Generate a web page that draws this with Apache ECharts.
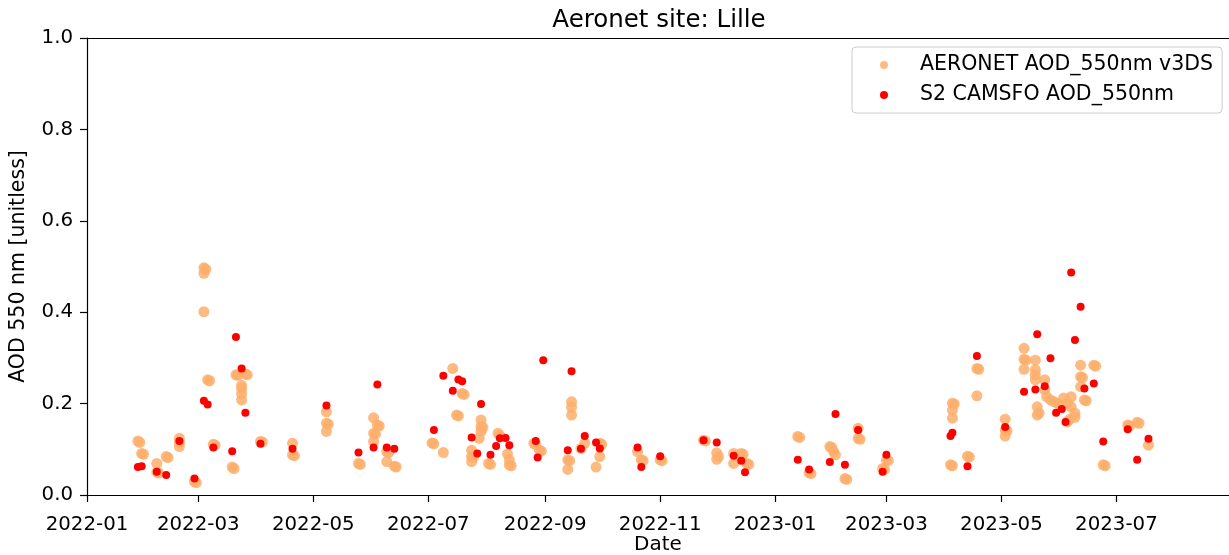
<!DOCTYPE html>
<html>
<head>
<meta charset="utf-8">
<script src="https://cdn.jsdelivr.net/npm/echarts@6/dist/echarts.min.js"></script>
<style>
html, body { margin: 0; padding: 0; background: #fff; }
#main { width: 1229px; height: 555px; }
</style>
</head>
<body>
<div id="main"></div>
<script>
var myChart = echarts.init(document.getElementById('main'));

// tick months on the date axis
const tickMonths = ['2022-01', '2022-03', '2022-05', '2022-07', '2022-09', '2022-11',
    '2023-01', '2023-03', '2023-05', '2023-07'];
const xMin = '2022-01-01';
const xMax = '2023-08-29 17:00';

// AERONET AOD_550nm v3DS  [date, AOD]
const aeronet = [
    ['2022-01-28', 0.118], ['2022-01-29', 0.115],
    ['2022-01-30', 0.091], ['2022-01-31', 0.089],
    ['2022-02-07', 0.069], ['2022-02-07', 0.050], ['2022-02-08', 0.048],
    ['2022-02-12', 0.084], ['2022-02-13', 0.082],
    ['2022-02-19', 0.124], ['2022-02-19', 0.115], ['2022-02-19', 0.106],
    ['2022-02-27', 0.029], ['2022-02-28', 0.027],
    ['2022-03-04', 0.497], ['2022-03-05', 0.494], ['2022-03-04', 0.485],
    ['2022-03-04', 0.401],
    ['2022-03-06', 0.252], ['2022-03-07', 0.250],
    ['2022-03-09', 0.111], ['2022-03-10', 0.109],
    ['2022-03-19', 0.061], ['2022-03-20', 0.058],
    ['2022-03-21', 0.263], ['2022-03-22', 0.262],
    ['2022-03-24', 0.240], ['2022-03-24', 0.233], ['2022-03-24', 0.221], ['2022-03-24', 0.208],
    ['2022-03-26', 0.265], ['2022-03-27', 0.263],
    ['2022-04-03', 0.117], ['2022-04-04', 0.116],
    ['2022-04-20', 0.113], ['2022-04-20', 0.088], ['2022-04-21', 0.086],
    ['2022-05-08', 0.182], ['2022-05-08', 0.157], ['2022-05-09', 0.155], ['2022-05-08', 0.139],
    ['2022-05-25', 0.069], ['2022-05-26', 0.067],
    ['2022-06-02', 0.169], ['2022-06-02', 0.135], ['2022-06-03', 0.133], ['2022-06-02', 0.117],
    ['2022-06-04', 0.153], ['2022-06-05', 0.151],
    ['2022-06-09', 0.095], ['2022-06-10', 0.093], ['2022-06-09', 0.073],
    ['2022-06-13', 0.063], ['2022-06-14', 0.061],
    ['2022-07-03', 0.114], ['2022-07-04', 0.112],
    ['2022-07-09', 0.093],
    ['2022-07-14', 0.277],
    ['2022-07-16', 0.175], ['2022-07-17', 0.173],
    ['2022-07-19', 0.222], ['2022-07-20', 0.220],
    ['2022-07-24', 0.098], ['2022-07-24', 0.084], ['2022-07-25', 0.082], ['2022-07-24', 0.073],
    ['2022-07-28', 0.124],
    ['2022-07-29', 0.164], ['2022-07-29', 0.150], ['2022-07-30', 0.148], ['2022-07-29', 0.139],
    ['2022-08-02', 0.069], ['2022-08-03', 0.067],
    ['2022-08-07', 0.135], ['2022-08-08', 0.130],
    ['2022-08-12', 0.090], ['2022-08-13', 0.077], ['2022-08-13', 0.066], ['2022-08-14', 0.064],
    ['2022-08-26', 0.113], ['2022-08-27', 0.111],
    ['2022-08-29', 0.098], ['2022-08-30', 0.096],
    ['2022-09-13', 0.077], ['2022-09-14', 0.075], ['2022-09-13', 0.056],
    ['2022-09-15', 0.204], ['2022-09-15', 0.192], ['2022-09-15', 0.175],
    ['2022-09-20', 0.102], ['2022-09-22', 0.113],
    ['2022-09-28', 0.061],
    ['2022-09-30', 0.113], ['2022-10-01', 0.111], ['2022-09-30', 0.084],
    ['2022-10-20', 0.095],
    ['2022-10-22', 0.077], ['2022-10-23', 0.075],
    ['2022-11-01', 0.077], ['2022-11-02', 0.075],
    ['2022-11-24', 0.120], ['2022-11-25', 0.118],
    ['2022-12-01', 0.092], ['2022-12-01', 0.078], ['2022-12-02', 0.084],
    ['2022-12-10', 0.091], ['2022-12-10', 0.069],
    ['2022-12-14', 0.091], ['2022-12-15', 0.089],
    ['2022-12-17', 0.069], ['2022-12-18', 0.067],
    ['2023-01-13', 0.128], ['2023-01-14', 0.126],
    ['2023-01-19', 0.049], ['2023-01-20', 0.047],
    ['2023-01-30', 0.106], ['2023-01-31', 0.104], ['2023-02-01', 0.095], ['2023-02-02', 0.088],
    ['2023-02-07', 0.036], ['2023-02-08', 0.034],
    ['2023-02-14', 0.146], ['2023-02-14', 0.124], ['2023-02-15', 0.122],
    ['2023-02-27', 0.058], ['2023-02-28', 0.056],
    ['2023-03-01', 0.077], ['2023-03-02', 0.075],
    ['2023-04-04', 0.066], ['2023-04-05', 0.064],
    ['2023-04-05', 0.201], ['2023-04-06', 0.199], ['2023-04-05', 0.186], ['2023-04-05', 0.168],
    ['2023-04-13', 0.085], ['2023-04-14', 0.083],
    ['2023-04-18', 0.277], ['2023-04-19', 0.275], ['2023-04-18', 0.217],
    ['2023-05-03', 0.166], ['2023-05-03', 0.142], ['2023-05-04', 0.140], ['2023-05-03', 0.129],
    ['2023-05-13', 0.321], ['2023-05-13', 0.297], ['2023-05-14', 0.295], ['2023-05-13', 0.275],
    ['2023-05-19', 0.295], ['2023-05-19', 0.274], ['2023-05-19', 0.263], ['2023-05-19', 0.252],
    ['2023-05-20', 0.193], ['2023-05-21', 0.179], ['2023-05-20', 0.175],
    ['2023-05-24', 0.252], ['2023-05-24', 0.230], ['2023-05-25', 0.215], ['2023-05-27', 0.208],
    ['2023-05-29', 0.204], ['2023-05-31', 0.200], ['2023-06-03', 0.212], ['2023-06-05', 0.201],
    ['2023-06-07', 0.215], ['2023-06-07', 0.193], ['2023-06-09', 0.179], ['2023-06-05', 0.160],
    ['2023-06-06', 0.165], ['2023-06-09', 0.170],
    ['2023-06-12', 0.284], ['2023-06-12', 0.259], ['2023-06-13', 0.257], ['2023-06-12', 0.237],
    ['2023-06-14', 0.208], ['2023-06-15', 0.206],
    ['2023-06-19', 0.284], ['2023-06-20', 0.282],
    ['2023-06-24', 0.066], ['2023-06-25', 0.064],
    ['2023-07-07', 0.153], ['2023-07-08', 0.151],
    ['2023-07-12', 0.159], ['2023-07-13', 0.157],
    ['2023-07-18', 0.109]
];

// S2 CAMSFO AOD_550nm  [date, AOD]
const camsfo = [
    ['2022-01-28', 0.061], ['2022-01-30', 0.063], ['2022-02-07', 0.051], ['2022-02-12', 0.044],
    ['2022-02-19', 0.118], ['2022-02-27', 0.036], ['2022-03-04', 0.206], ['2022-03-06', 0.198],
    ['2022-03-09', 0.104], ['2022-03-19', 0.096], ['2022-03-21', 0.346], ['2022-03-24', 0.277],
    ['2022-03-26', 0.180], ['2022-04-03', 0.112],
    ['2022-04-20', 0.101], ['2022-05-08', 0.196], ['2022-05-25', 0.093], ['2022-06-02', 0.104],
    ['2022-06-04', 0.242], ['2022-06-09', 0.104], ['2022-06-13', 0.101], ['2022-07-04', 0.142],
    ['2022-07-09', 0.261], ['2022-07-14', 0.228], ['2022-07-17', 0.253], ['2022-07-19', 0.249],
    ['2022-07-24', 0.126], ['2022-07-27', 0.091], ['2022-07-29', 0.199], ['2022-08-03', 0.088],
    ['2022-08-06', 0.107], ['2022-08-08', 0.124], ['2022-08-11', 0.125], ['2022-08-13', 0.109],
    ['2022-08-27', 0.118], ['2022-08-28', 0.082], ['2022-08-31', 0.295],
    ['2022-09-13', 0.098], ['2022-09-15', 0.271], ['2022-09-20', 0.101], ['2022-09-22', 0.129],
    ['2022-09-28', 0.115], ['2022-09-30', 0.102], ['2022-10-20', 0.104], ['2022-10-22', 0.061],
    ['2022-11-01', 0.085], ['2022-11-24', 0.120], ['2022-12-01', 0.115], ['2022-12-10', 0.086],
    ['2022-12-14', 0.075], ['2022-12-16', 0.050], ['2023-01-13', 0.077], ['2023-01-19', 0.056],
    ['2023-01-30', 0.072], ['2023-02-02', 0.177], ['2023-02-07', 0.066], ['2023-02-14', 0.142],
    ['2023-02-27', 0.051], ['2023-03-01', 0.088], ['2023-04-04', 0.129], ['2023-04-05', 0.136],
    ['2023-04-13', 0.063], ['2023-04-18', 0.304], ['2023-05-03', 0.149], ['2023-05-13', 0.226],
    ['2023-05-19', 0.231], ['2023-05-20', 0.352], ['2023-05-24', 0.238], ['2023-05-27', 0.299],
    ['2023-05-30', 0.180], ['2023-06-02', 0.188], ['2023-06-04', 0.160], ['2023-06-07', 0.487],
    ['2023-06-09', 0.339], ['2023-06-12', 0.412], ['2023-06-14', 0.233], ['2023-06-19', 0.244],
    ['2023-06-24', 0.117], ['2023-07-07', 0.144], ['2023-07-12', 0.077], ['2023-07-18', 0.123]
];

const font = 'DejaVu Sans';

// dates -> timestamps for the date axis
let toTime = function(s) {
    return echarts.number.parseDate(s).getTime();
}
let toPoints = function(list) {
    return list.map(p => [toTime(p[0]), p[1]]);
}

const tickTimes = tickMonths.map(m => toTime(m + '-01'));
const minTime = toTime(xMin);
const maxTime = toTime(xMax);

option = {
    animation: false,
    backgroundColor: '#fff',
    textStyle: { fontFamily: font },
    title: {
        text: 'Aeronet site: Lille',
        left: 654,
        textAlign: 'center',
        top: 3,
        textStyle: { fontSize: 24.5, fontWeight: 'normal', color: '#000', fontFamily: font }
    },
    grid: { left: 87, right: 0, top: 38, bottom: 60, outerBoundsMode: 'none' },
    legend: {
        orient: 'vertical',
        left: 852,
        top: 47,
        padding: [7, 9, 7, 28],
        itemWidth: 62,
        itemHeight: 8,
        itemGap: 8,
        icon: 'circle',
        backgroundColor: 'rgba(255,255,255,0.8)',
        borderColor: '#cccccc',
        borderWidth: 1,
        borderRadius: 4,
        textStyle: { fontSize: 20.5, color: '#000', fontFamily: font, lineHeight: 22 }
    },
    xAxis: [{
        type: 'value',
        min: minTime,
        max: maxTime,
        name: 'Date',
        nameLocation: 'middle',
        nameGap: 40,
        nameMoveOverlap: false,
        nameTextStyle: { fontSize: 20, color: '#000', fontFamily: font },
        axisLine: { onZero: false, lineStyle: { color: '#000', width: 1.2 } },
        axisTick: { show: true, length: 7, customValues: tickTimes, lineStyle: { color: '#000', width: 1.2 } },
        axisLabel: {
            customValues: tickTimes,
            margin: 20,
            fontSize: 19.8,
            color: '#000',
            fontFamily: font,
            formatter: function(val) {
                return echarts.time.format(val, '{yyyy}-{MM}', false);
            }
        },
        splitLine: { show: false }
    }, {
        type: 'value',
        min: minTime,
        max: maxTime,
        position: 'top',
        axisLine: { show: true, onZero: false, lineStyle: { color: '#000', width: 1.2 } },
        axisTick: { show: false },
        axisLabel: { show: false },
        splitLine: { show: false }
    }],
    yAxis: {
        type: 'value',
        min: 0,
        max: 1,
        interval: 0.2,
        name: 'AOD 550 nm [unitless]',
        nameLocation: 'middle',
        nameGap: 58,
        nameMoveOverlap: false,
        nameTextStyle: { fontSize: 20.5, color: '#000', fontFamily: font },
        axisLine: { show: true, onZero: false, lineStyle: { color: '#000', width: 1.2 } },
        axisTick: { show: true, length: 7, lineStyle: { color: '#000', width: 1.2 } },
        axisLabel: {
            margin: 14,
            fontSize: 19.8,
            color: '#000',
            fontFamily: font,
            formatter: function(v) { return v.toFixed(1); }
        },
        splitLine: { show: false }
    },
    series: [{
        name: 'AERONET AOD_550nm v3DS',
        type: 'scatter',
        symbolSize: 11,
        itemStyle: { color: '#fdae6b', opacity: 0.85 },
        data: toPoints(aeronet),
        z: 2
    }, {
        name: 'S2 CAMSFO AOD_550nm',
        type: 'scatter',
        symbolSize: 8,
        itemStyle: { color: '#ff0000', opacity: 1 },
        data: toPoints(camsfo),
        z: 3
    }]
};

myChart.setOption(option);
</script>
</body>
</html>
